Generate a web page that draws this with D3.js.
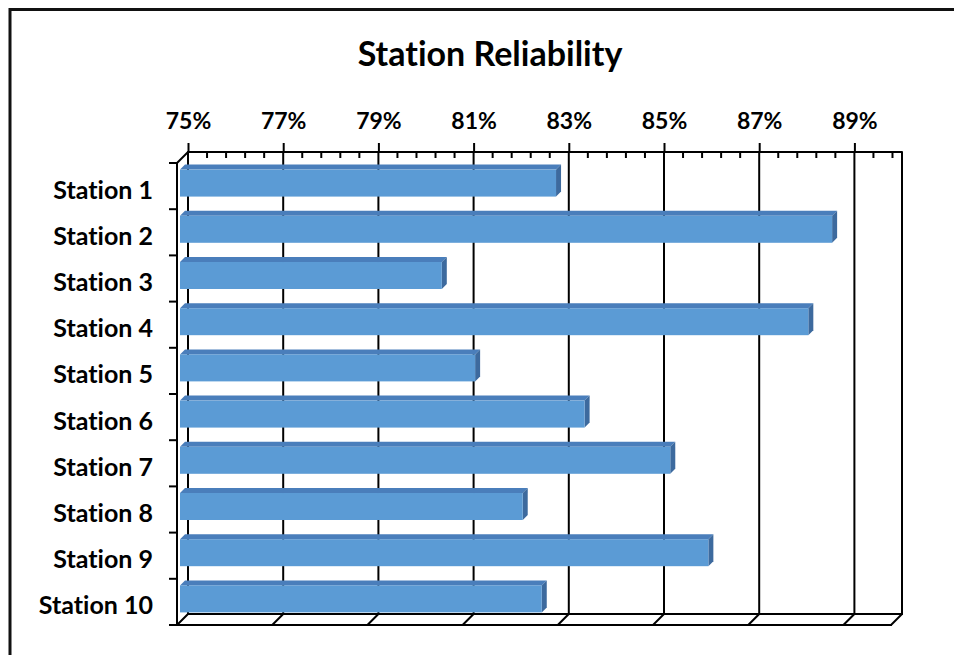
<!DOCTYPE html>
<html>
<head>
<meta charset="utf-8">
<script src="https://cdn.jsdelivr.net/npm/d3@7"></script>
<style>
  html, body { margin: 0; padding: 0; background: #fff; }
  svg { display: block; }
  text { font-family: Lato, "Open Sans", sans-serif; font-weight: bold; fill: #000; font-variant-ligatures: none; }
</style>
</head>
<body>
<svg id="chart" width="954" height="655"></svg>
<script>
const categories = ["Station 1","Station 2","Station 3","Station 4","Station 5","Station 6","Station 7","Station 8","Station 9","Station 10"];
const values = [82.9, 88.7, 80.5, 88.2, 81.2, 83.5, 85.3, 82.2, 86.1, 82.6];
const majorTicks = [75, 77, 79, 81, 83, 85, 87, 89];
const minorTicks = d3.range(75, 90.01, 0.4).map(d => +d.toFixed(1));
const title = "Station Reliability";

const svg = d3.select("#chart");
const W = 954, H = 655;

// 3D geometry: back plane and front plane offset
const DX = -11, DY = 11;
const BF = 8, BB = 3;  // bar front / back face offsets

const x = d3.scaleLinear().domain([75, 90]).range([188, 902]);
const y = d3.scaleBand().domain(categories).range([152, 614]).paddingInner(0.416).paddingOuter(0.208);
const yFull = d3.scaleBand().domain(categories).range([152, 614]);

// outer frame (top and left visible)
svg.append("path").attr("d", `M10,${H+5} L10,9.5 L${W+5},9.5`)
  .attr("fill", "none").attr("stroke", "#111").attr("stroke-width", 3);

// title
svg.append("text").attr("x", 490).attr("y", 66).attr("text-anchor", "middle")
  .attr("font-size", 34).text(title);

const g = svg.append("g");
const line = (x1, y1, x2, y2, w = 2) => g.append("line")
  .attr("x1", x1).attr("y1", y1).attr("x2", x2).attr("y2", y2)
  .attr("stroke", "#000").attr("stroke-width", w).attr("stroke-linecap", "round");

const [y0, y1] = [152, 614];

// gridlines on back wall
majorTicks.forEach(t => line(x(t), y0, x(t), y1));
// right edge of back wall
line(x(90), y0, x(90), y1);
// back wall bottom edge
line(x(75), y1, x(90), y1);
// floor front edge
line(x(75) + DX, y1 + DY, x(90) + DX, y1 + DY);
// floor diagonals
majorTicks.concat([90]).forEach(t => line(x(t), y1, x(t) + DX, y1 + DY));
// left wall
line(x(75), y0, x(75) + DX, y0 + DY);
line(x(75) + DX, y0 + DY, x(75) + DX, y1 + DY);

// top axis
const axis = d3.axisTop(x).tickValues(majorTicks).tickSize(9).tickPadding(14)
  .tickFormat(d => d + "%");
const ax = svg.append("g").attr("transform", `translate(0,${y0})`).call(axis);
ax.select(".domain").attr("stroke", "#000").attr("stroke-width", 2.2)
  .attr("d", `M${x(75)},0H${x(90)}`);
ax.selectAll(".tick line").attr("stroke", "#000").attr("stroke-width", 2);
ax.selectAll(".tick text").attr("font-size", 23).attr("font-family", "Lato, sans-serif")
  .attr("font-weight", "bold").attr("fill", "#000");
// minor ticks (inward)
svg.append("g").selectAll("line").data(minorTicks.filter(t => !majorTicks.includes(t) && t < 90))
  .join("line")
  .attr("x1", d => x(d)).attr("x2", d => x(d)).attr("y1", y0).attr("y2", y0 + 6)
  .attr("stroke", "#000").attr("stroke-width", 2);

// left category ticks on front edge of left wall
const bounds = categories.map(c => yFull(c)).concat([y1]);
svg.append("g").selectAll("line").data(bounds).join("line")
  .attr("x1", x(75) + DX - 8).attr("x2", x(75) + DX)
  .attr("y1", d => d + DY).attr("y2", d => d + DY)
  .attr("stroke", "#000").attr("stroke-width", 2);

// category labels
svg.append("g").selectAll("text").data(categories).join("text")
  .attr("x", 153).attr("y", d => yFull(d) + yFull.bandwidth() / 2 + DY + 6)
  .attr("text-anchor", "end").attr("dominant-baseline", "middle")
  .attr("font-size", 25).text(d => d);

// bars
const bars = svg.append("g");
categories.forEach((c, i) => {
  const xa = x(75), xb = x(values[i]);
  const ya = y(c), yb = ya + y.bandwidth();
  // top face
  bars.append("path")
    .attr("d", `M${xa - BF},${ya + BF} L${xb - BF},${ya + BF} L${xb - BB},${ya + BB} L${xa - BB},${ya + BB} Z`)
    .attr("fill", "#4a7ebb");
  // side face
  bars.append("path")
    .attr("d", `M${xb - BF},${ya + BF} L${xb - BB},${ya + BB} L${xb - BB},${yb + BB} L${xb - BF},${yb + BF} Z`)
    .attr("fill", "#3d6a9e");
  // front face
  bars.append("rect")
    .attr("x", xa - BF).attr("y", ya + BF)
    .attr("width", xb - xa).attr("height", yb - ya)
    .attr("fill", "#5b9bd5");
});
</script>
</body>
</html>
